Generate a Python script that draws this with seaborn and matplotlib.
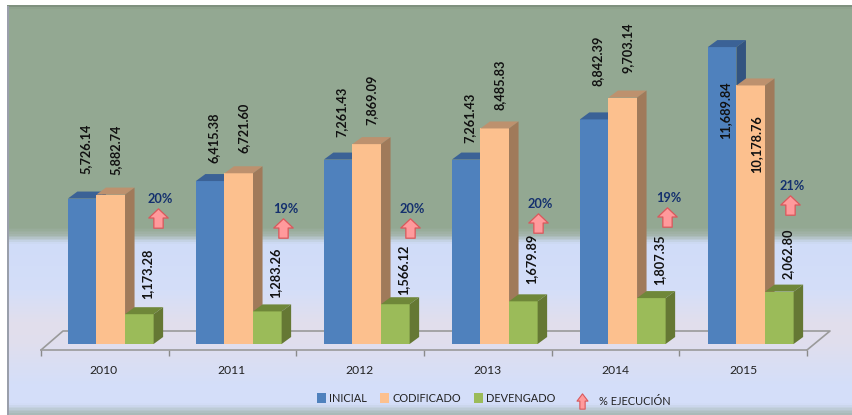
import matplotlib
matplotlib.use('Agg')
import matplotlib.pyplot as plt
from matplotlib.colors import LinearSegmentedColormap
from matplotlib.lines import Line2D
from matplotlib.patches import Patch, Polygon
from matplotlib.path import Path
import numpy as np
import pandas as pd
import seaborn as sns

YEARS = ["2010", "2011", "2012", "2013", "2014", "2015"]
INICIAL = [5726.14, 6415.38, 7261.43, 7261.43, 8842.39, 11689.84]
CODIFICADO = [5882.74, 6721.60, 7869.09, 8485.83, 9703.14, 10178.76]
DEVENGADO = [1173.28, 1283.26, 1566.12, 1679.89, 1807.35, 2062.80]
PCT_EJECUCION = [20, 19, 20, 20, 19, 21]
# height of the arrow series in the same units as the bars
ARROW_LEVEL = [4960, 4570, 4570, 4760, 5000, 5470]

SERIES = ["INICIAL", "CODIFICADO", "DEVENGADO"]
# gap in px between bar top and start of its rotated label
LIFT_INICIAL = [25, 18, 23, 17, 33, -92]
LIFT_CODIFICADO = [20, 20, 19, 18, 25, -88]
LIFT_DEVENGADO = [15, 13, 9, 17, 13, 13]
# arrow offset in px from the centre of each bar group
ARROW_SHIFT = [47.5, 44.5, 43.5, 43, 44, 39.5]

FRONT = ["#4f81bd", "#fcc08e", "#9bbb59"]
TOP = ["#3b6296", "#bd916e", "#6f8739"]
SIDE = ["#335480", "#a07a5a", "#657834"]
W, H = 853, 415
PX_PER_UNIT = 0.0254

sns.set_theme(style="white")
plt.rcParams['font.family'] = ['Lato', 'DejaVu Sans']

df = pd.DataFrame({"year": YEARS * 3,
                   "serie": np.repeat(SERIES, 6),
                   "value": INICIAL + CODIFICADO + DEVENGADO})

fig = plt.figure(figsize=(W / 100, H / 100), dpi=100, facecolor="white")

# background panel with the band gradient
bg = fig.add_axes([0, 0, 1, 1], zorder=0)
stops = [(6, "#7f917f"), (8, "#93a892"), (228, "#93a892"), (235, "#a3b4aa"), (244, "#d0dcf8"),
         (290, "#d4def9"), (325, "#e2deec"), (345, "#e0deee"), (385, "#d4def9"),
         (405, "#d4def9"), (415, "#a9bab8")]
cmap = LinearSegmentedColormap.from_list(
    "panel", [((y - 6) / (415 - 6), c) for y, c in stops])
bg.imshow(np.linspace(0, 1, 410)[:, None], cmap=cmap, aspect="auto",
          extent=[7, W, 415, 6], zorder=1)
bg.fill_between([7, 9], 6, 415, color="#9a9fab", zorder=2, lw=0)
bg.set_xlim(0, W)
bg.set_ylim(H, 0)
bg.axis("off")

# chart axes: left/right are the front floor line, bottom is 350 px
ax = fig.add_axes([41 / W, (H - 350) / H, (807 - 41) / W, (350 - 6) / H], zorder=1)
ax.patch.set_alpha(0)
sns.barplot(data=df, x="year", y="value", hue="serie", order=YEARS, hue_order=SERIES,
            palette=FRONT, saturation=1, width=0.67, legend=False, linewidth=0, ax=ax)
x0 = (41 - 110.75) / 128
x1 = (807 - 110.75) / 128
ax.set_xlim(x0, x1)
ax.set_ylim(-6 / PX_PER_UNIT, 338 / PX_PER_UNIT)

DX = 9.5 / 128
DY = 7 / PX_PER_UNIT
LIFTS = LIFT_INICIAL + LIFT_CODIFICADO + LIFT_DEVENGADO
values = INICIAL + CODIFICADO + DEVENGADO
for n, bar in enumerate(ax.patches[:18]):
    s = n // 6
    x, w, h = bar.get_x(), bar.get_width(), bar.get_height()
    bar.set_zorder(3 + s)
    ax.add_patch(Polygon([(x, h), (x + DX, h + DY), (x + w + DX, h + DY), (x + w, h)],
                         fc=TOP[s], lw=0, zorder=3 + s))
    ax.add_patch(Polygon([(x + w, 0), (x + w + DX, DY), (x + w + DX, h + DY), (x + w, h)],
                         fc=SIDE[s], lw=0, zorder=3 + s))
    off = [3, 5, 8][s]
    ax.annotate(f"{values[n]:,.2f}", (x + w / 2, h), xytext=(off * 0.72, LIFTS[n] * 0.72),
                textcoords="offset points", rotation=90, ha="center", va="bottom",
                fontsize=9.2, color="#111111", fontweight="bold", zorder=10)

# floor
back_l = (63 - 110.75) / 128
back_r = (830 - 110.75) / 128
back_y = 13 / PX_PER_UNIT
floor_y = -6 / PX_PER_UNIT
ax.plot([x0, back_l, back_r, x1], [floor_y, back_y, back_y, floor_y],
        color="#9a9a9a", lw=1.2, clip_on=False, zorder=2)

# arrow series
ARROW = Path([(-0.48, -1), (0.48, -1), (0.48, 0.05), (1, 0.05), (0, 1), (-1, 0.05), (-0.48, 0.05), (-0.48, -1)],
             closed=True)
ARROW_LEG = Path(ARROW.vertices * [0.72, 1], ARROW.codes)
arrow_x = np.arange(6) + np.array(ARROW_SHIFT) / 128
sns.scatterplot(x=arrow_x, y=ARROW_LEVEL, marker=ARROW, s=195, color="#ff9a9c",
                edgecolor="#d9585c", linewidth=0.9, zorder=9, legend=False, ax=ax)
for i, p in enumerate(PCT_EJECUCION):
    ax.annotate(f"{p}%", (arrow_x[i], ARROW_LEVEL[i]), xytext=(1.5, 13.7), textcoords="offset points",
                ha="center", va="center", fontsize=9.2, fontweight="bold", color="#14306e", zorder=10)

# axis
ax.set_xlabel("")
ax.set_ylabel("")
ax.set_yticks([])
ax.set_xticks(np.arange(6) - 7.5 / 128)
ax.set_xticklabels(YEARS, fontsize=8.7, color="#222222")
ax.set_xticks(x0 + np.arange(7) * (x1 - x0) / 6, minor=True)
ax.tick_params(axis="x", which="major", length=0, pad=11)
ax.tick_params(axis="x", which="minor", length=4, width=1, color="#8a8a8a", bottom=True)
for name, sp in ax.spines.items():
    sp.set_visible(name == "bottom")
ax.spines["bottom"].set_color("#9a9a9a")
ax.spines["bottom"].set_linewidth(1.2)

# legend
handles = [Patch(fc=c, lw=0, label=s) for c, s in zip(FRONT, SERIES)]
leg = fig.legend(handles=handles, ncol=3, frameon=False, fontsize=7.9, loc="center left",
                 bbox_to_anchor=(317 / W, (H - 398.5) / H), borderaxespad=0, borderpad=0,
                 handlelength=0.85, handleheight=1, handletextpad=0.25, columnspacing=1.2)
arrow_handle = Line2D([], [], ls="", marker=ARROW_LEG, ms=11, mfc="#ff9a9c", mec="#d9585c",
                      mew=0.8, label="% EJECUCIÓN")
leg2 = fig.legend(handles=[arrow_handle], frameon=False, fontsize=7.9, loc="center left",
                  bbox_to_anchor=(575 / W, (H - 401) / H), borderaxespad=0, borderpad=0,
                  handlelength=1.3, handletextpad=0.9)
for t in leg.get_texts() + leg2.get_texts():
    t.set_color("#222222")

fig.savefig("out.png", dpi=100)
